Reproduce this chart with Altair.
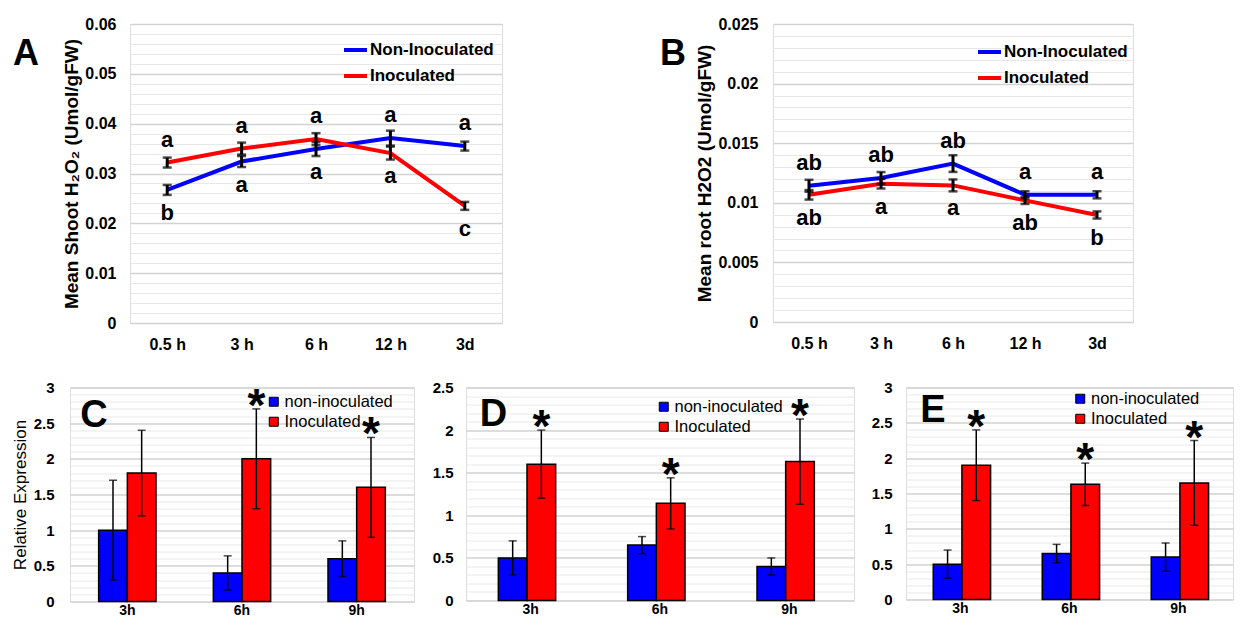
import altair as alt
import pandas as pd

SANS = "Liberation Sans, Arial, Helvetica, sans-serif"

# ---------------- data ----------------
times = ["0.5 h", "3 h", "6 h", "12 h", "3d"]
series_line = ["Non-Inoculated", "Inoculated"]

shoot_non = [0.0267, 0.0324, 0.0349, 0.0371, 0.0355]
shoot_non_err = [0.0010, 0.0011, 0.0014, 0.0015, 0.0009]
shoot_non_letters = ["b", "a", "a", "a", "a"]
shoot_ino = [0.0322, 0.0350, 0.0369, 0.0341, 0.0235]
shoot_ino_err = [0.0010, 0.0012, 0.0012, 0.0013, 0.0008]
shoot_ino_letters = ["a", "a", "a", "a", "c"]

root_non = [0.01143, 0.01208, 0.01329, 0.01067, 0.01067]
root_non_err = [0.0005, 0.0005, 0.0007, 0.0003, 0.0003]
root_non_letters = ["ab", "ab", "ab", "a", "a"]
root_ino = [0.01067, 0.01160, 0.01146, 0.01020, 0.00898]
root_ino_err = [0.0004, 0.0004, 0.0005, 0.0003, 0.0003]
root_ino_letters = ["ab", "a", "a", "ab", "b"]

hours = ["3h", "6h", "9h"]
groups = ["non-inoculated", "Inoculated"]

c_non = [1.0, 0.4, 0.6]
c_non_err = [0.7, 0.24, 0.25]
c_ino = [1.8, 2.0, 1.6]
c_ino_err = [0.6, 0.7, 0.7]
c_sig = ["", "*", "*"]

d_non = [0.5, 0.65, 0.4]
d_non_err = [0.2, 0.1, 0.1]
d_ino = [1.6, 1.14, 1.63]
d_ino_err = [0.4, 0.3, 0.5]
d_sig = ["*", "*", "*"]

e_non = [0.5, 0.65, 0.6]
e_non_err = [0.2, 0.13, 0.2]
e_ino = [1.9, 1.63, 1.65]
e_ino_err = [0.5, 0.3, 0.6]
e_sig = ["*", "*", "*"]


def line_df(non, non_err, non_let, ino, ino_err, ino_let):
    rows = []
    for i, t in enumerate(times):
        for s, v, e, l, other in [
            ("Non-Inoculated", non[i], non_err[i], non_let[i], ino[i]),
            ("Inoculated", ino[i], ino_err[i], ino_let[i], non[i]),
        ]:
            rows.append(dict(time=t, series=s, value=v, lo=v - e, hi=v + e,
                             letter=l, pos="above" if v >= other else "below"))
    return pd.DataFrame(rows)


def bar_df(non, non_err, ino, ino_err, sig):
    rows = []
    for i, h in enumerate(hours):
        rows.append(dict(hour=h, group=groups[0], value=non[i],
                         lo=non[i] - non_err[i], hi=non[i] + non_err[i], sig=""))
        rows.append(dict(hour=h, group=groups[1], value=ino[i],
                         lo=ino[i] - ino_err[i], hi=ino[i] + ino_err[i], sig=sig[i]))
    return pd.DataFrame(rows)


def y_axis(minor_vals, major_mult, label_font_size, label_pad, title=None, title_x=None,
           title_size=17, title_weight="normal"):
    is_major = f"abs(round(datum.value*{major_mult}) - datum.value*{major_mult}) < 1e-6"
    kw = dict(values=minor_vals, grid=True,
              gridColor={"condition": {"test": is_major, "value": "#d2d2d2"}, "value": "#e8e8e8"},
              gridWidth={"condition": {"test": is_major, "value": 1.5}, "value": 1},
              labelExpr=f"({is_major}) ? format(datum.value, '~g') : ''",
              labelOverlap=False, labelFlush=False,
              ticks=False, tickSize=0, domain=False,
              labelFont=SANS, labelFontSize=label_font_size, labelFontWeight="bold",
              labelColor="black", labelPadding=label_pad)
    if title is None:
        kw["title"] = None
    else:
        kw.update(title=title, titleFont=SANS, titleFontSize=title_size,
                  titleFontWeight=title_weight, titleColor="black",
                  titleX=title_x, titleBaseline="middle")
    return alt.Axis(**kw)


def line_panel(df, ymax, minor_step, major_mult, ytitle, letter, width, height,
               title_x, label_pad, legend_x, legend_y, letter_x, letter_y):
    minor_vals = [round(i * minor_step, 6) for i in range(int(round(ymax / minor_step)) + 1)]
    x_axis = alt.Axis(title=None, labelAngle=0, ticks=False, tickSize=0, domain=False, grid=False,
                      labelFont=SANS, labelFontSize=16, labelFontWeight="bold",
                      labelColor="black", labelPadding=13)
    ya = y_axis(minor_vals, major_mult, 16, label_pad, title=ytitle, title_x=title_x,
                title_size=19, title_weight="bold")
    xs = alt.Scale(type="point", padding=0.5)
    ys = alt.Scale(domain=[0, ymax], nice=False, zero=True)

    def X():
        return alt.X("time:N", sort=times, scale=xs, axis=x_axis)

    def Y(f):
        return alt.Y(f"{f}:Q", scale=ys, axis=ya)

    color = alt.Color("series:N", sort=series_line,
                      scale=alt.Scale(domain=series_line, range=["#0000ff", "#ff0000"]),
                      legend=alt.Legend(title=None, orient="none", legendX=legend_x, legendY=legend_y,
                                        symbolType="stroke", symbolSize=529, symbolStrokeWidth=4,
                                        labelFont=SANS, labelFontSize=17, labelFontWeight="bold",
                                        labelColor="black", labelOffset=1, rowPadding=4, padding=0))
    base = alt.Chart(df)
    lines = base.mark_line(strokeWidth=4).encode(x=X(), y=Y("value"), color=color)
    err = base.mark_rule(color="black", strokeWidth=3).encode(x=X(), y=Y("lo"), y2="hi:Q")
    cap_lo = base.mark_tick(color="black", thickness=2.5, size=9).encode(x=X(), y=Y("lo"))
    cap_hi = base.mark_tick(color="black", thickness=2.5, size=9).encode(x=X(), y=Y("hi"))
    up = base.transform_filter("datum.pos == 'above'").mark_text(
        font=SANS, fontSize=22, fontWeight="bold", color="black", baseline="middle", dy=-23
    ).encode(x=X(), y=Y("value"), text="letter:N")
    dn = base.transform_filter("datum.pos == 'below'").mark_text(
        font=SANS, fontSize=22, fontWeight="bold", color="black", baseline="middle", dy=23
    ).encode(x=X(), y=Y("value"), text="letter:N")
    lab = alt.Chart(pd.DataFrame({"t": [letter]})).mark_text(
        font=SANS, fontSize=36, fontWeight="bold", color="black", align="center", baseline="middle"
    ).encode(x=alt.value(letter_x), y=alt.value(letter_y), text="t:N")
    return alt.layer(lines, err, cap_lo, cap_hi, up, dn, lab).properties(width=width, height=height)


def bar_panel(df, ymax, letter, width, height, label_pad, legend_x, legend_y,
              letter_x, letter_y, ytitle=None):
    minor_vals = [round(i * 0.1, 6) for i in range(int(round(ymax / 0.1)) + 1)]
    x_axis = alt.Axis(title=None, labelAngle=0, ticks=False, tickSize=0, domain=False, grid=False,
                      labelFont=SANS, labelFontSize=14, labelFontWeight="bold",
                      labelColor="black", labelPadding=2)
    ya = y_axis(minor_vals, 2, 15, label_pad, title=ytitle, title_x=-50)
    xs = alt.Scale(paddingInner=0.5, paddingOuter=0.25)
    ys = alt.Scale(domain=[0, ymax], nice=False, zero=True)

    def X():
        return alt.X("hour:N", sort=hours, scale=xs, axis=x_axis)

    def XO():
        return alt.XOffset("group:N", sort=groups, scale=alt.Scale(paddingInner=0, paddingOuter=0))

    def Y(f):
        return alt.Y(f"{f}:Q", scale=ys, axis=ya)

    color = alt.Color("group:N", sort=groups,
                      scale=alt.Scale(domain=groups, range=["#0000ff", "#ff0000"]),
                      legend=alt.Legend(title=None, orient="none", legendX=legend_x, legendY=legend_y,
                                        symbolType="square", symbolSize=81,
                                        symbolStrokeColor="black", symbolStrokeWidth=1,
                                        labelFont=SANS, labelFontSize=16.5, labelColor="black",
                                        labelOffset=2.5, rowPadding=3, padding=0))
    base = alt.Chart(df)
    bars = base.mark_bar(stroke="black", strokeWidth=1.5).encode(
        x=X(), xOffset=XO(), y=Y("value"), color=color)
    err = base.mark_rule(color="black", strokeWidth=1.5).encode(
        x=X(), xOffset=XO(), y=Y("lo"), y2="hi:Q")
    cap_lo = base.mark_tick(color="black", thickness=1.5, size=8).encode(
        x=X(), xOffset=XO(), y=Y("lo"))
    cap_hi = base.mark_tick(color="black", thickness=1.5, size=8).encode(
        x=X(), xOffset=XO(), y=Y("hi"))
    stars = base.transform_filter("datum.sig == '*'").mark_text(
        font=SANS, fontSize=46, fontWeight="bold", color="black", baseline="alphabetic", dy=12
    ).encode(x=X(), xOffset=XO(), y=Y("hi"), text="sig:N")
    lab = alt.Chart(pd.DataFrame({"t": [letter]})).mark_text(
        font=SANS, fontSize=38, fontWeight="bold", color="black", align="center", baseline="middle"
    ).encode(x=alt.value(letter_x), y=alt.value(letter_y), text="t:N")
    return alt.layer(bars, err, cap_lo, cap_hi, stars, lab).properties(width=width, height=height)


def spacer(w):
    return alt.Chart(pd.DataFrame({"a": [0]})).mark_point(opacity=0).encode(
        x=alt.value(0), y=alt.value(0)
    ).properties(width=w, height=10, view=alt.ViewBackground(stroke="transparent"))


panel_a = line_panel(line_df(shoot_non, shoot_non_err, shoot_non_letters,
                             shoot_ino, shoot_ino_err, shoot_ino_letters),
                     0.06, 0.002, 100, "Mean Shoot H\u2082O\u2082 (Umol/gFW)", "A",
                     372, 299, -59, 14, 212, 12.5, -104, 29.5)
panel_b = line_panel(line_df(root_non, root_non_err, root_non_letters,
                             root_ino, root_ino_err, root_ino_letters),
                     0.025, 0.001, 200, "Mean root H2O2 (Umol/gFW)", "B",
                     360, 298, -69, 15, 203, 14.5, -100, 30)

panel_c = bar_panel(bar_df(c_non, c_non_err, c_ino, c_ino_err, c_sig), 3, "C",
                    344, 214, 16, 195.5, 6, 24, 28, ytitle="Relative Expression")
panel_d = bar_panel(bar_df(d_non, d_non_err, d_ino, d_ino_err, d_sig), 2.5, "D",
                    388, 213, 13, 189.5, 11, 27.5, 27)
panel_e = bar_panel(bar_df(e_non, e_non_err, e_ino, e_ino_err, e_sig), 3, "E",
                    327, 212, 14, 166, 3, 27, 23)

row1 = alt.hconcat(spacer(10), panel_a, spacer(171), panel_b, spacing=50, bounds="flush").resolve_scale(
    color="independent", x="independent", y="independent").resolve_legend(color="independent")
row2 = alt.hconcat(panel_c, panel_d, panel_e, spacing=52, bounds="flush").resolve_scale(
    color="independent", x="independent", y="independent").resolve_legend(color="independent")

chart = alt.vconcat(row1, row2, spacing=26.5).resolve_scale(
    color="independent", x="independent", y="independent"
).resolve_legend(color="independent").properties(
    padding={"left": 2, "top": 7, "right": 0, "bottom": 0}, background="white"
).configure_view(stroke="black", strokeWidth=2).configure(font=SANS)

chart.save("out.html", embed_options={"renderer": "svg", "actions": False})
